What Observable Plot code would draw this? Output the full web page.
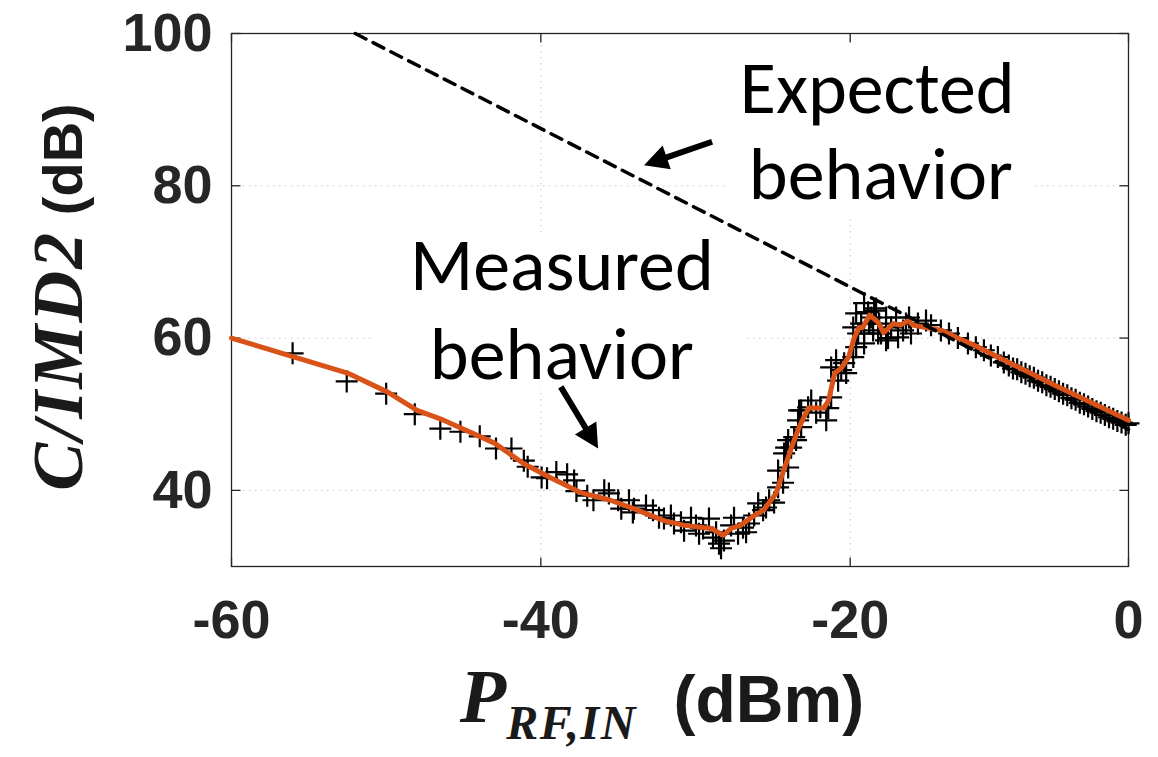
<!DOCTYPE html>
<html><head><meta charset="utf-8">
<script src="https://cdn.jsdelivr.net/npm/d3@7"></script>
<script src="https://cdn.jsdelivr.net/npm/@observablehq/plot@0.6"></script>
<style>body{margin:0;background:#fff} svg{display:block}</style>
</head><body><div id="chart"></div>
<script>
// Measured points (+ markers)
const measX = [-56.05,-52.55,-50.0,-48.15,-46.5,-45.2,-43.95,-42.9,-41.9,-41.1,-40.85,-39.95,-39.6,-39.0,-38.3,-37.85,-37.7,-37.0,-36.6,-35.9,-35.6,-35.0,-34.8,-34.3,-34.05,-33.98,-33.2,-32.75,-32.36,-32.04,-31.59,-31.39,-30.94,-30.74,-30.29,-29.97,-29.77,-29.51,-29.13,-28.87,-28.67,-28.48,-28.35,-28.16,-27.7,-27.51,-27.25,-26.93,-26.73,-26.54,-26.21,-25.95,-25.63,-25.44,-25.24,-24.92,-24.66,-24.66,-24.34,-24.27,-24.14,-24.01,-24.01,-23.82,-23.62,-23.5,-23.37,-23.3,-23.17,-23.17,-22.72,-22.52,-22.2,-21.93,-21.55,-21.42,-21.23,-21.23,-20.91,-20.78,-20.58,-20.39,-20.26,-19.78,-19.78,-19.57,-19.57,-19.43,-19.21,-19.0,-19.0,-19.0,-18.71,-18.64,-18.49,-18.35,-18.28,-18.14,-17.99,-17.92,-17.78,-17.42,-17.42,-17.28,-17.06,-16.7,-16.56,-16.2,-15.99,-15.77,-15.63,-15.13,-14.55,-14.19,-13.48,-12.9,-12.26,-11.54,-10.97,-10.39,-9.89,-9.39,-8.96,-8.6,-8.3,-8.0,-7.7,-7.4,-7.1,-6.8,-6.5,-6.2,-5.9,-5.6,-5.3,-5.0,-4.7,-4.4,-4.1,-3.8,-3.5,-3.2,-2.9,-2.6,-2.3,-2.0,-1.7,-1.4,-1.1,-0.8,-0.5,-0.2,0];
const measY = [58.0,54.3,52.7,50.0,48.1,47.7,47.1,45.5,45.5,43.9,43.1,41.7,41.6,42.4,42.1,41.3,39.9,39.3,38.7,40.0,39.6,38.7,37.6,38.7,37.1,37.6,38.0,37.4,36.4,36.3,36.7,35.65,35.8,34.7,36.4,35.4,34.3,35.0,36.3,33.8,34.5,33.0,32.4,33.4,35.4,36.4,34.3,35.1,34.5,35.65,36.7,38.3,37.4,37.75,38.7,38.4,40.4,42.6,41.0,44.85,45.6,43.0,46.6,45.6,47.0,46.6,49.2,50.5,48.3,50.5,50.9,51.8,50.2,50.9,49.2,50.8,52.2,56.15,57.1,54.4,55.8,56.7,55.4,57.5,61.4,58.8,63.25,60.6,61.9,60.6,64.6,59.3,63.4,61.9,62.7,61.0,63.6,63.9,60.6,61.9,60.6,62.7,59.7,60.0,61.4,62.7,60.1,61.0,61.9,62.7,60.6,61.9,62.3,61.7,61.0,60.6,60.0,59.3,58.8,58.4,57.7,57.5,56.8,56.4,56.0,55.9,55.5,55.3,55.0,54.8,54.4,54.2,53.8,53.6,53.3,53.0,52.7,52.5,52.1,51.9,51.5,51.3,51.0,50.7,50.4,50.2,49.9,49.6,49.4,49.1,48.9,48.6,48.8];
// Smoothed measured curve (orange)
const fitX = [-60,-52.5,-49.9,-48.0,-46.5,-43.0,-41.1,-39.4,-37.4,-35.5,-34.0,-32.0,-30.7,-29.0,-28.2,-27.7,-27.1,-26.2,-25.6,-24.8,-24.3,-23.8,-23.3,-22.7,-21.7,-21.4,-21.0,-20.6,-20.1,-19.7,-19.35,-19.1,-18.6,-18.0,-17.6,-16.9,-16.4,-15.8,-15.5,-13.4,-12.4,-11.0,-8.6,-5.3,0];
const fitY = [60.0,55.4,52.9,50.5,49.4,46.2,43.5,41.7,39.7,38.7,37.6,36.0,35.4,35.0,34.1,35.0,35.4,36.7,37.4,39.6,42.6,45.6,48.3,50.8,50.8,51.8,55.4,56.0,57.5,60.1,61.4,61.4,63.0,62.1,60.7,61.9,61.7,62.3,61.7,61.0,60.1,59.0,56.8,53.8,49.2];
// Expected behaviour (dashed)
const expX = [-52, 0];
const expY = [100, 48];
// Axes
const xTicks = [-60, -40, -20, 0];
const yTicks = [40, 60, 80, 100];
const xGrid = [-40, -20];
const yGrid = [40, 60, 80];
// Annotations
const noteText = ["Expected", "behavior", "Measured", "behavior"];
const noteX = [-18.06, -17.8, -38.64, -38.64];
const noteY = [89.5, 78.2, 66.3, 54.6];
const arrowTipX = [-33.33, -36.3];
const arrowTipY = [82.7, 45.5];
const arrowAngle = [161, 58.8];
const boxes = [
  {x1: -50.8, x2: -26.7, y1: 53.4, y2: 73.8},
  {x1: -28.0, x2: -7.0, y1: 76.1, y2: 98.5}
];

const pts = measX.map((x, i) => ({x, y: measY[i]}));
const fit = fitX.map((x, i) => ({x, y: fitY[i]}));
const exp = expX.map((x, i) => ({x, y: expY[i]}));
const notes = noteText.map((t, i) => ({t, x: noteX[i], y: noteY[i]}));
const arrows = arrowTipX.map((x, i) => ({x, y: arrowTipY[i], a: arrowAngle[i]}));

// The original axis is compressed between -20 and 0 (last tick interval is ~0.9x the others)
const xWarp = v => v <= -20 ? v : -20 + (v + 20) * 0.8997;

const plusSym = {draw(ctx) { ctx.moveTo(-11, 0); ctx.lineTo(11, 0); ctx.moveTo(0, -11); ctx.lineTo(0, 11); }};
const segSym = (dx, dy) => ({draw(ctx) { ctx.moveTo(0, 0); ctx.lineTo(dx, dy); }});
const arrowSym = (deg) => ({draw(ctx) {
  const L = 72, H = 24, W = 12.5, S = 3;
  const a = deg * Math.PI / 180, c = Math.cos(a), s = Math.sin(a);
  const P = [[0,0],[-H,-W],[-H,-S],[-L,-S],[-L,S],[-H,S],[-H,W]].map(([px, py]) => [px*c - py*s, px*s + py*c]);
  ctx.moveTo(P[0][0], P[0][1]);
  for (let k = 1; k < P.length; k++) ctx.lineTo(P[k][0], P[k][1]);
  ctx.closePath();
}});

const axisColor = "#262626";
const tickFont = {fontSize: 54, fontWeight: "bold", fontFamily: "'Liberation Sans', Arial, sans-serif", fill: axisColor};

const plot = Plot.plot({
  width: 1158, height: 757,
  marginLeft: 231, marginRight: 30, marginTop: 33, marginBottom: 191,
  x: {transform: xWarp, domain: [-60, xWarp(0)], axis: null},
  y: {domain: [30, 100], axis: null},
  marks: [
    Plot.ruleX(xGrid, {stroke: "#c8c8c8", strokeWidth: 1, strokeDasharray: "1.5,4.5"}),
    Plot.ruleY(yGrid, {stroke: "#c8c8c8", strokeWidth: 1, strokeDasharray: "1.5,4.5"}),
    Plot.rect(boxes, {x1: "x1", x2: "x2", y1: "y1", y2: "y2", fill: "white"}),
    Plot.frame({stroke: axisColor, strokeWidth: 1.3}),
    Plot.dot(xTicks, {x: d => d, y: 30, symbol: segSym(0, -9), stroke: axisColor, strokeWidth: 1.3}),
    Plot.dot(xTicks, {x: d => d, y: 100, symbol: segSym(0, 9), stroke: axisColor, strokeWidth: 1.3}),
    Plot.dot(yTicks, {y: d => d, x: -60, symbol: segSym(9, 0), stroke: axisColor, strokeWidth: 1.3}),
    Plot.dot(yTicks, {y: d => d, x: 0, symbol: segSym(-9, 0), stroke: axisColor, strokeWidth: 1.3}),
    Plot.text(xTicks, {x: d => d, frameAnchor: "bottom", dy: 54, lineAnchor: "middle", text: d => String(d), ...tickFont}),
    Plot.text(yTicks, {y: d => d, frameAnchor: "left", dx: -19, textAnchor: "end", lineAnchor: "middle", text: d => String(d), ...tickFont}),
    Plot.dot(pts, {x: "x", y: "y", symbol: plusSym, stroke: "black", strokeWidth: 2.2, fill: "none"}),
    Plot.line(fit, {x: "x", y: "y", stroke: "#D95319", strokeWidth: 5, strokeLinejoin: "round"}),
    Plot.line(exp, {x: "x", y: "y", stroke: "black", strokeWidth: 3.5, strokeDasharray: "12,8"}),
    Plot.text(notes, {x: "x", y: "y", text: "t", lineAnchor: "bottom", textAnchor: "middle", fontSize: 74, fontFamily: "Calibri, Carlito, 'Open Sans', sans-serif", fill: "black"}),
    Plot.dot([arrows[0]], {x: "x", y: "y", symbol: arrowSym(arrows[0].a), fill: "black", stroke: "none"}),
    Plot.dot([arrows[1]], {x: "x", y: "y", symbol: arrowSym(arrows[1].a), fill: "black", stroke: "none"})
  ]
});

const svg = d3.select(plot);
const yt = svg.append("text").attr("transform", "translate(82,297) rotate(-90)").attr("text-anchor", "middle").attr("fill", "#1a1a1a");
yt.append("tspan").attr("font-family", "'Liberation Serif', 'Times New Roman', serif").attr("font-style", "italic").attr("font-weight", "bold").attr("font-size", 72).attr("letter-spacing", 2).text("C/IMD2");
yt.append("tspan").attr("font-family", "'Liberation Sans', Arial, sans-serif").attr("font-weight", "bold").attr("font-size", 56).text(" (dB)");

const xt = svg.append("text").attr("x", 662).attr("y", 722).attr("text-anchor", "middle").attr("fill", "#1a1a1a");
xt.append("tspan").attr("font-family", "'Liberation Serif', 'Times New Roman', serif").attr("font-style", "italic").attr("font-weight", "bold").attr("font-size", 76).text("P");
xt.append("tspan").attr("dy", 17).attr("font-family", "'Liberation Serif', 'Times New Roman', serif").attr("font-style", "italic").attr("font-weight", "bold").attr("font-size", 48).attr("letter-spacing", 1.5).text("RF,IN");
xt.append("tspan").attr("dy", -17).attr("font-family", "'Liberation Sans', Arial, sans-serif").attr("font-weight", "bold").attr("font-size", 66).text("\u00a0 (dBm)");

document.getElementById("chart").appendChild(plot);
</script>
</body></html>
